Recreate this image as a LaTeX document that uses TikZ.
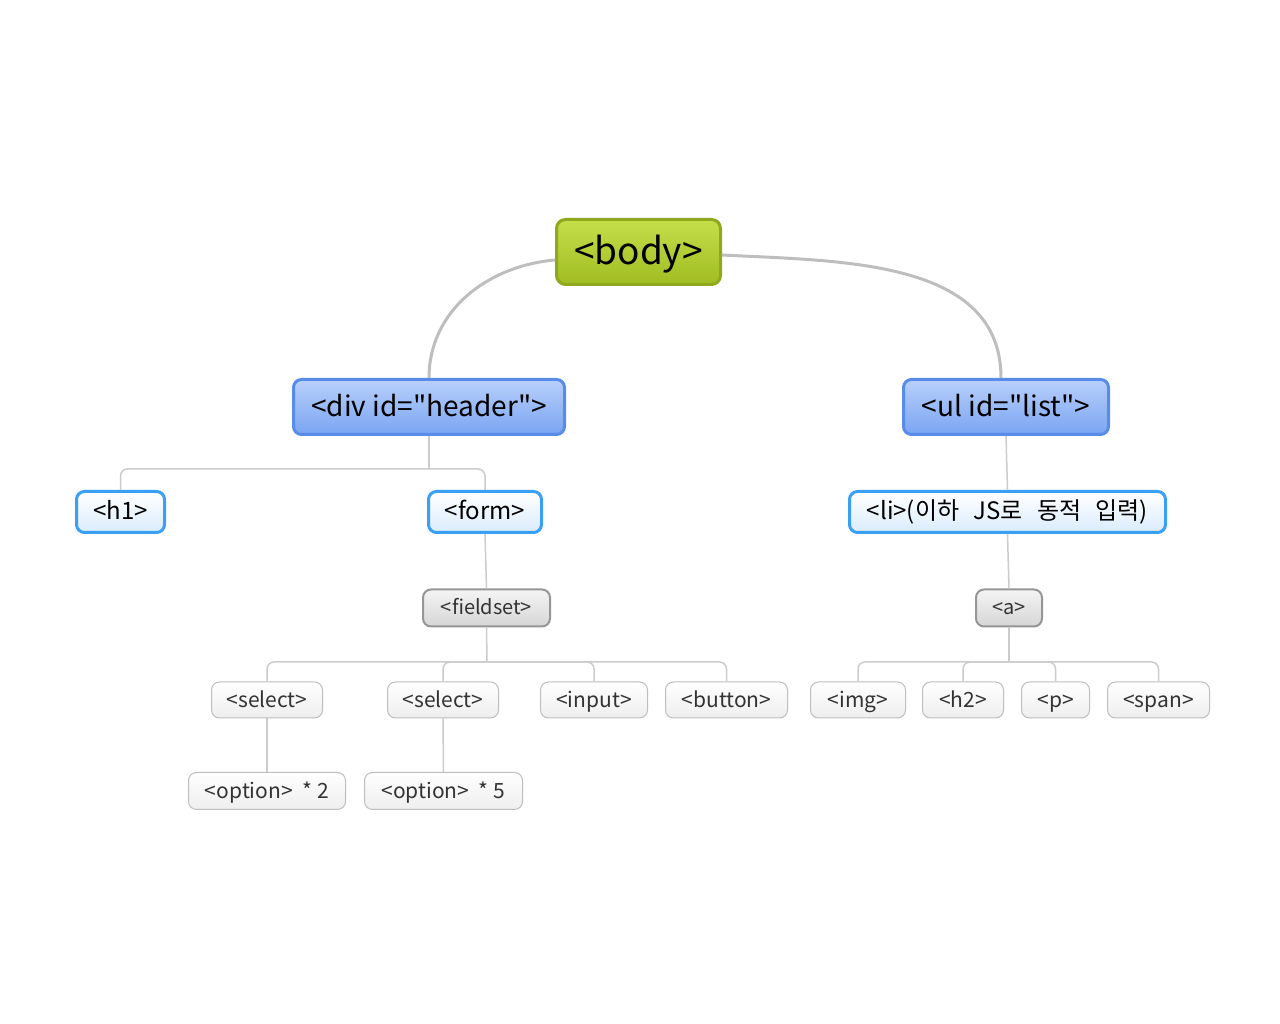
\documentclass[tikz,border=0pt]{standalone}
\usepackage{fontspec}
\newfontfamily\mainf{Noto Sans CJK KR}
\begin{document}
\begin{tikzpicture}[x=1pt,y=1pt,
  rootbox/.style={draw={rgb,255:red,143;green,168;blue,28}, line width=3pt, rounded corners=9pt,
    top color={rgb,255:red,196;green,222;blue,74}, bottom color={rgb,255:red,160;green,189;blue,34},
    inner sep=0pt, font=\mainf\fontsize{37}{40}\selectfont, text=black, text height=29pt, text depth=4pt},
  mainbox/.style={draw={rgb,255:red,88;green,140;blue,232}, line width=3pt, rounded corners=8pt,
    top color={rgb,255:red,184;green,208;blue,250}, bottom color={rgb,255:red,122;green,164;blue,242},
    inner sep=0pt, minimum height=55pt, font=\mainf\fontsize{28}{32}\selectfont, text=black, text height=22pt, text depth=3pt},
  subbox/.style={draw={rgb,255:red,58;green,160;blue,245}, line width=3pt, rounded corners=8pt,
    top color=white, bottom color={rgb,255:red,218;green,236;blue,253},
    inner sep=0pt, minimum height=41pt, font=\mainf\fontsize{24}{27}\selectfont, text=black, text height=18.5pt, text depth=2.5pt},
  grpbox/.style={draw={rgb,255:red,150;green,150;blue,150}, line width=2pt, rounded corners=8pt,
    top color={rgb,255:red,244;green,244;blue,244}, bottom color={rgb,255:red,214;green,214;blue,214},
    inner sep=0pt, minimum height=37pt, font=\mainf\fontsize{20}{24}\selectfont, text={rgb,255:red,51;green,51;blue,51}, text height=16pt, text depth=2pt},
  leafbox/.style={draw={rgb,255:red,190;green,190;blue,190}, line width=1pt, rounded corners=8pt,
    top color=white, bottom color={rgb,255:red,238;green,238;blue,238},
    inner sep=0pt, minimum height=36pt, font=\mainf\fontsize{21}{24}\selectfont, text={rgb,255:red,51;green,51;blue,51}, text height=16.5pt, text depth=2pt},
  curve/.style={draw={rgb,255:red,190;green,190;blue,190}, line width=3pt},
  branch/.style={draw={rgb,255:red,204;green,204;blue,204}, line width=1.5pt, rounded corners=7pt},
]
\useasboundingbox (0,0) rectangle (1280,1024);
\fill[white] (0,0) rectangle (1280,1024);

% nodes
\node[rootbox, minimum width=164pt, minimum height=65pt] (body) at (638.5,772) {<body>};
\node[mainbox, minimum width=271pt] (div) at (429,617) {<div id="header">};
\node[mainbox, minimum width=205pt] (ul) at (1006,617) {<ul id="list">};
\node[subbox, minimum width=88pt] (h1) at (120.5,512) {<h1>};
\node[subbox, minimum width=113pt] (form) at (485,512) {<form>};
\node[subbox, minimum width=316pt] (li) at (1007.5,512) {<li>(이하\hspace{0.6em}JS로\hspace{0.6em}동적\hspace{0.6em}입력)};
\node[grpbox, minimum width=127pt] (fieldset) at (486.5,416) {<fieldset>};
\node[grpbox, minimum width=66pt] (a) at (1009,416) {<a>};
\node[leafbox, minimum width=111pt] (select1) at (267,324) {<select>};
\node[leafbox, minimum width=111pt] (select2) at (443,324) {<select>};
\node[leafbox, minimum width=107pt] (input) at (594,324) {<input>};
\node[leafbox, minimum width=122pt] (button) at (726.5,324) {<button>};
\node[leafbox, minimum width=95pt] (img) at (858,324) {<img>};
\node[leafbox, minimum width=81pt] (h2) at (963,324) {<h2>};
\node[leafbox, minimum width=68pt] (p) at (1055.5,324) {<p>};
\node[leafbox, minimum width=102pt] (span) at (1158.5,324) {<span>};
\node[leafbox, minimum width=157pt, minimum height=37pt] (opt2) at (267,233) {<option>\hspace{0.45em}*\hspace{0.25em}2};
\node[leafbox, minimum width=158pt, minimum height=37pt] (opt5) at (443.5,233) {<option>\hspace{0.45em}*\hspace{0.25em}5};

% hubs
\coordinate (hubdiv) at (429,555);
\coordinate (hubfs) at (487,362);
\coordinate (huba) at (1009,362);

% connectors
\draw[curve] ([yshift=-8pt]body.west) to[out=185,in=90] (div.north);
\draw[curve] ([yshift=-3pt]body.east) to[out=-3,in=90] ([xshift=-5pt]ul.north);

\draw[branch] (div.south) -- (hubdiv);
\draw[branch] (h1.north) |- (hubdiv) -| (form.north);
\draw[branch] (ul.south) -- (li.north);
\draw[branch] (form.south) -- (fieldset.north);
\draw[branch] (li.south) -- (a.north);

\draw[branch] (fieldset.south) -- (hubfs);
\draw[branch] (select1.north) |- (hubfs) -| (button.north);
\draw[branch] (select2.north) |- (hubfs);
\draw[branch] (input.north) |- (hubfs);

\draw[branch] (a.south) -- (huba);
\draw[branch] (img.north) |- (huba) -| (span.north);
\draw[branch] (h2.north) |- (huba);
\draw[branch] (p.north) |- (huba);

\draw[branch] (select1.south) -- (opt2.north);
\draw[branch] (select2.south) -- (opt5.north);
\end{tikzpicture}
\end{document}
